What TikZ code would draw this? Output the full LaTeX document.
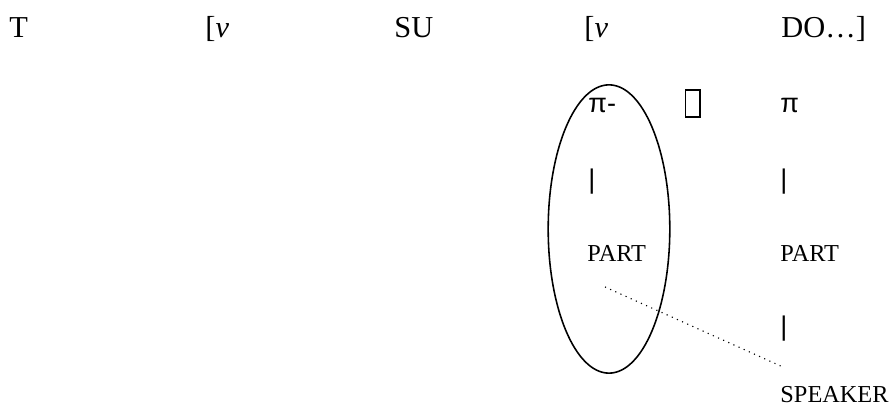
\documentclass[tikz,border=0pt]{standalone}
\usepackage{fontspec}
\setmainfont{Liberation Serif}
\newfontfamily\symsans{Liberation Sans}
\usetikzlibrary{shapes.geometric}

\tikzset{
  word/.style={anchor=base west,inner sep=0pt,font=\fontsize{13.5}{16}\selectfont},
  feat/.style={anchor=base west,inner sep=0pt,font=\fontsize{10.8}{13}\selectfont},
  sym/.style={anchor=base west,inner sep=0pt,font=\fontsize{12}{14}\symsans},
}

\begin{document}
\begin{tikzpicture}[x=0.444pt,y=-0.444pt]
  \useasboundingbox (0,0) rectangle (892,411);

  % clause row
  \node[word] (tee) at (9,38) {T};
  \node[word] (vone) at (205,38) {[\textit{v}};
  \node[word] (su) at (394,38) {SU};
  \node[word] (vtwo) at (584,38) {[\textit{v}};
  \node[word] (do) at (781,38) {DO…]};

  % pi features
  \node[sym] (pione) at (588,113) {π-};
  \node[draw,line width=0.5pt,minimum width=6.6pt,minimum height=12pt,inner sep=0pt] (gap) at (692.5,103.5) {};
  \node[sym] (pitwo) at (780,113) {π};

  \node[sym] (barone) at (588,189) {|};
  \node[sym] (bartwo) at (780,189) {|};

  \node[feat] (partone) at (587,262) {PART};
  \node[feat] (parttwo) at (780,262) {PART};

  \node[sym] (barthree) at (780,336) {|};

  \node[feat] (speaker) at (780,403) {SPEAKER};

  % grouping
  \node[draw,ellipse,line width=0.7pt,minimum width=54pt,minimum height=128pt,inner sep=0pt] (group) at (609,229) {};

  \coordinate (dotstart) at (605,287);
  \coordinate (dotend) at (783,367);
  \draw[dotted,line width=0.5pt] (dotstart) -- (dotend);

\end{tikzpicture}
\end{document}
